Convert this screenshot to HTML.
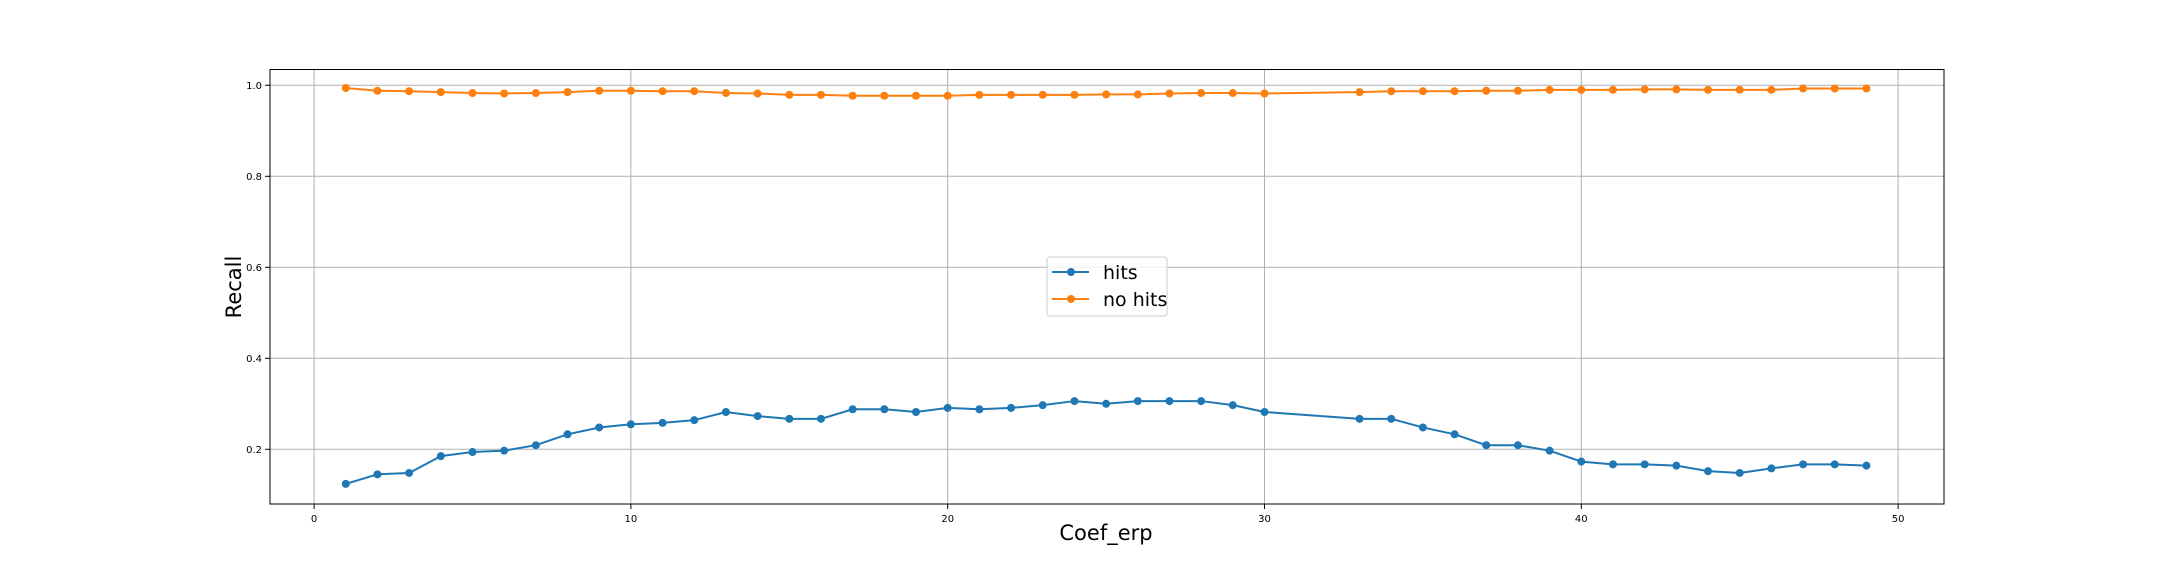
<!DOCTYPE html>
<html><head><meta charset="utf-8"><style>
html,body{margin:0;padding:0;background:#fff;}
svg text{font-family:"DejaVu Sans","Liberation Sans",sans-serif;}
</style></head><body>
<svg id="chart" width="2160" height="576" xmlns="http://www.w3.org/2000/svg">
<rect width="2160" height="576" fill="#fff"/>
<g id="grid"></g>
<g id="xticks"></g>
<g id="yticks"></g>
<g id="series"></g>
<rect x="270" y="69.5" width="1674" height="434.5" fill="none" stroke="#000" stroke-width="1"/>
<text x="1106" y="540" font-size="21" text-anchor="middle">Coef_erp</text>
<text transform="translate(241,287) rotate(-90)" font-size="21" text-anchor="middle">Recall</text>
<g>
<rect x="1047" y="257" width="120" height="59" rx="3" fill="#fff" fill-opacity="0.8" stroke="#ccc"/>
<g>
<line x1="1052" y1="272" x2="1089" y2="272" stroke="#1f77b4" stroke-width="2"/>
<circle cx="1071" cy="272" r="4" fill="#1f77b4"/>
<text x="1103" y="279" font-size="19">hits</text></g>
<g>
<line x1="1052" y1="299" x2="1089" y2="299" stroke="#ff7f0e" stroke-width="2"/>
<circle cx="1071" cy="299" r="4" fill="#ff7f0e"/>
<text x="1103" y="306" font-size="19">no hits</text></g>
</g>
</svg>
<script>
const xValues=[1,2,3,4,5,6,7,8,9,10,11,12,13,14,15,16,17,18,19,20,21,22,23,24,25,26,27,28,29,30,33,34,35,36,37,38,39,40,41,42,43,44,45,46,47,48,49];
const hits=[0.124,0.145,0.148,0.185,0.194,0.197,0.209,0.233,0.248,0.255,0.258,0.264,0.282,0.273,0.267,0.267,0.288,0.288,0.282,0.291,0.288,0.291,0.297,0.306,0.300,0.306,0.306,0.306,0.297,0.282,0.267,0.267,0.248,0.233,0.209,0.209,0.197,0.173,0.167,0.167,0.164,0.152,0.148,0.158,0.167,0.167,0.164];
const noHits=[0.994,0.988,0.987,0.985,0.983,0.982,0.983,0.985,0.988,0.988,0.987,0.987,0.983,0.982,0.979,0.979,0.977,0.977,0.977,0.977,0.979,0.979,0.979,0.979,0.980,0.980,0.982,0.983,0.983,0.982,0.985,0.987,0.987,0.987,0.988,0.988,0.990,0.990,0.990,0.991,0.991,0.990,0.990,0.990,0.993,0.993,0.993];
const xTicks=[0,10,20,30,40,50];
const yTicks=[0.2,0.4,0.6,0.8,1.0];
const X=v=>314.1+v*31.68;
const Y=v=>540.3-v*455;
const NS="http://www.w3.org/2000/svg";
function mk(tag,attrs,parent){const e=document.createElementNS(NS,tag);for(const k in attrs)e.setAttribute(k,attrs[k]);parent.appendChild(e);return e;}
const grid=document.getElementById('grid'),xt=document.getElementById('xticks'),yt=document.getElementById('yticks'),ser=document.getElementById('series');
xTicks.forEach(t=>{
 const g=mk('line',{x1:X(t),x2:X(t),y1:69.5,y2:504,stroke:'#b0b0b0','stroke-width':1},grid);
 
 
 const tk=mk('line',{x1:X(t),x2:X(t),y1:504,y2:509,stroke:'#000','stroke-width':1},xt);
 
 
 const tx=mk('text',{x:X(t),y:522,'font-size':10,'text-anchor':'middle'},xt);tx.textContent=String(t);
 
 
});
yTicks.forEach(t=>{
 const g=mk('line',{x1:270,x2:1944,y1:Y(t),y2:Y(t),stroke:'#b0b0b0','stroke-width':1},grid);
 
 
 const tk=mk('line',{x1:265,x2:270,y1:Y(t),y2:Y(t),stroke:'#000','stroke-width':1},yt);
 
 
 const tx=mk('text',{x:262,y:Y(t)+3.5,'font-size':10,'text-anchor':'end'},yt);tx.textContent=t.toFixed(1);
 
 
});
function drawSeries(vals,color,name){
 const pts=xValues.map((x,i)=>X(x)+','+Y(vals[i])).join(' ');
 const pl=mk('polyline',{points:pts,fill:'none',stroke:color,'stroke-width':2},ser);
 
 
 xValues.forEach((x,i)=>{
  const c=mk('circle',{cx:X(x),cy:Y(vals[i]),r:4,fill:color},ser);
  
  
 });
}
drawSeries(hits,'#1f77b4','hits');
drawSeries(noHits,'#ff7f0e','no-hits');
</script>
</body></html>
